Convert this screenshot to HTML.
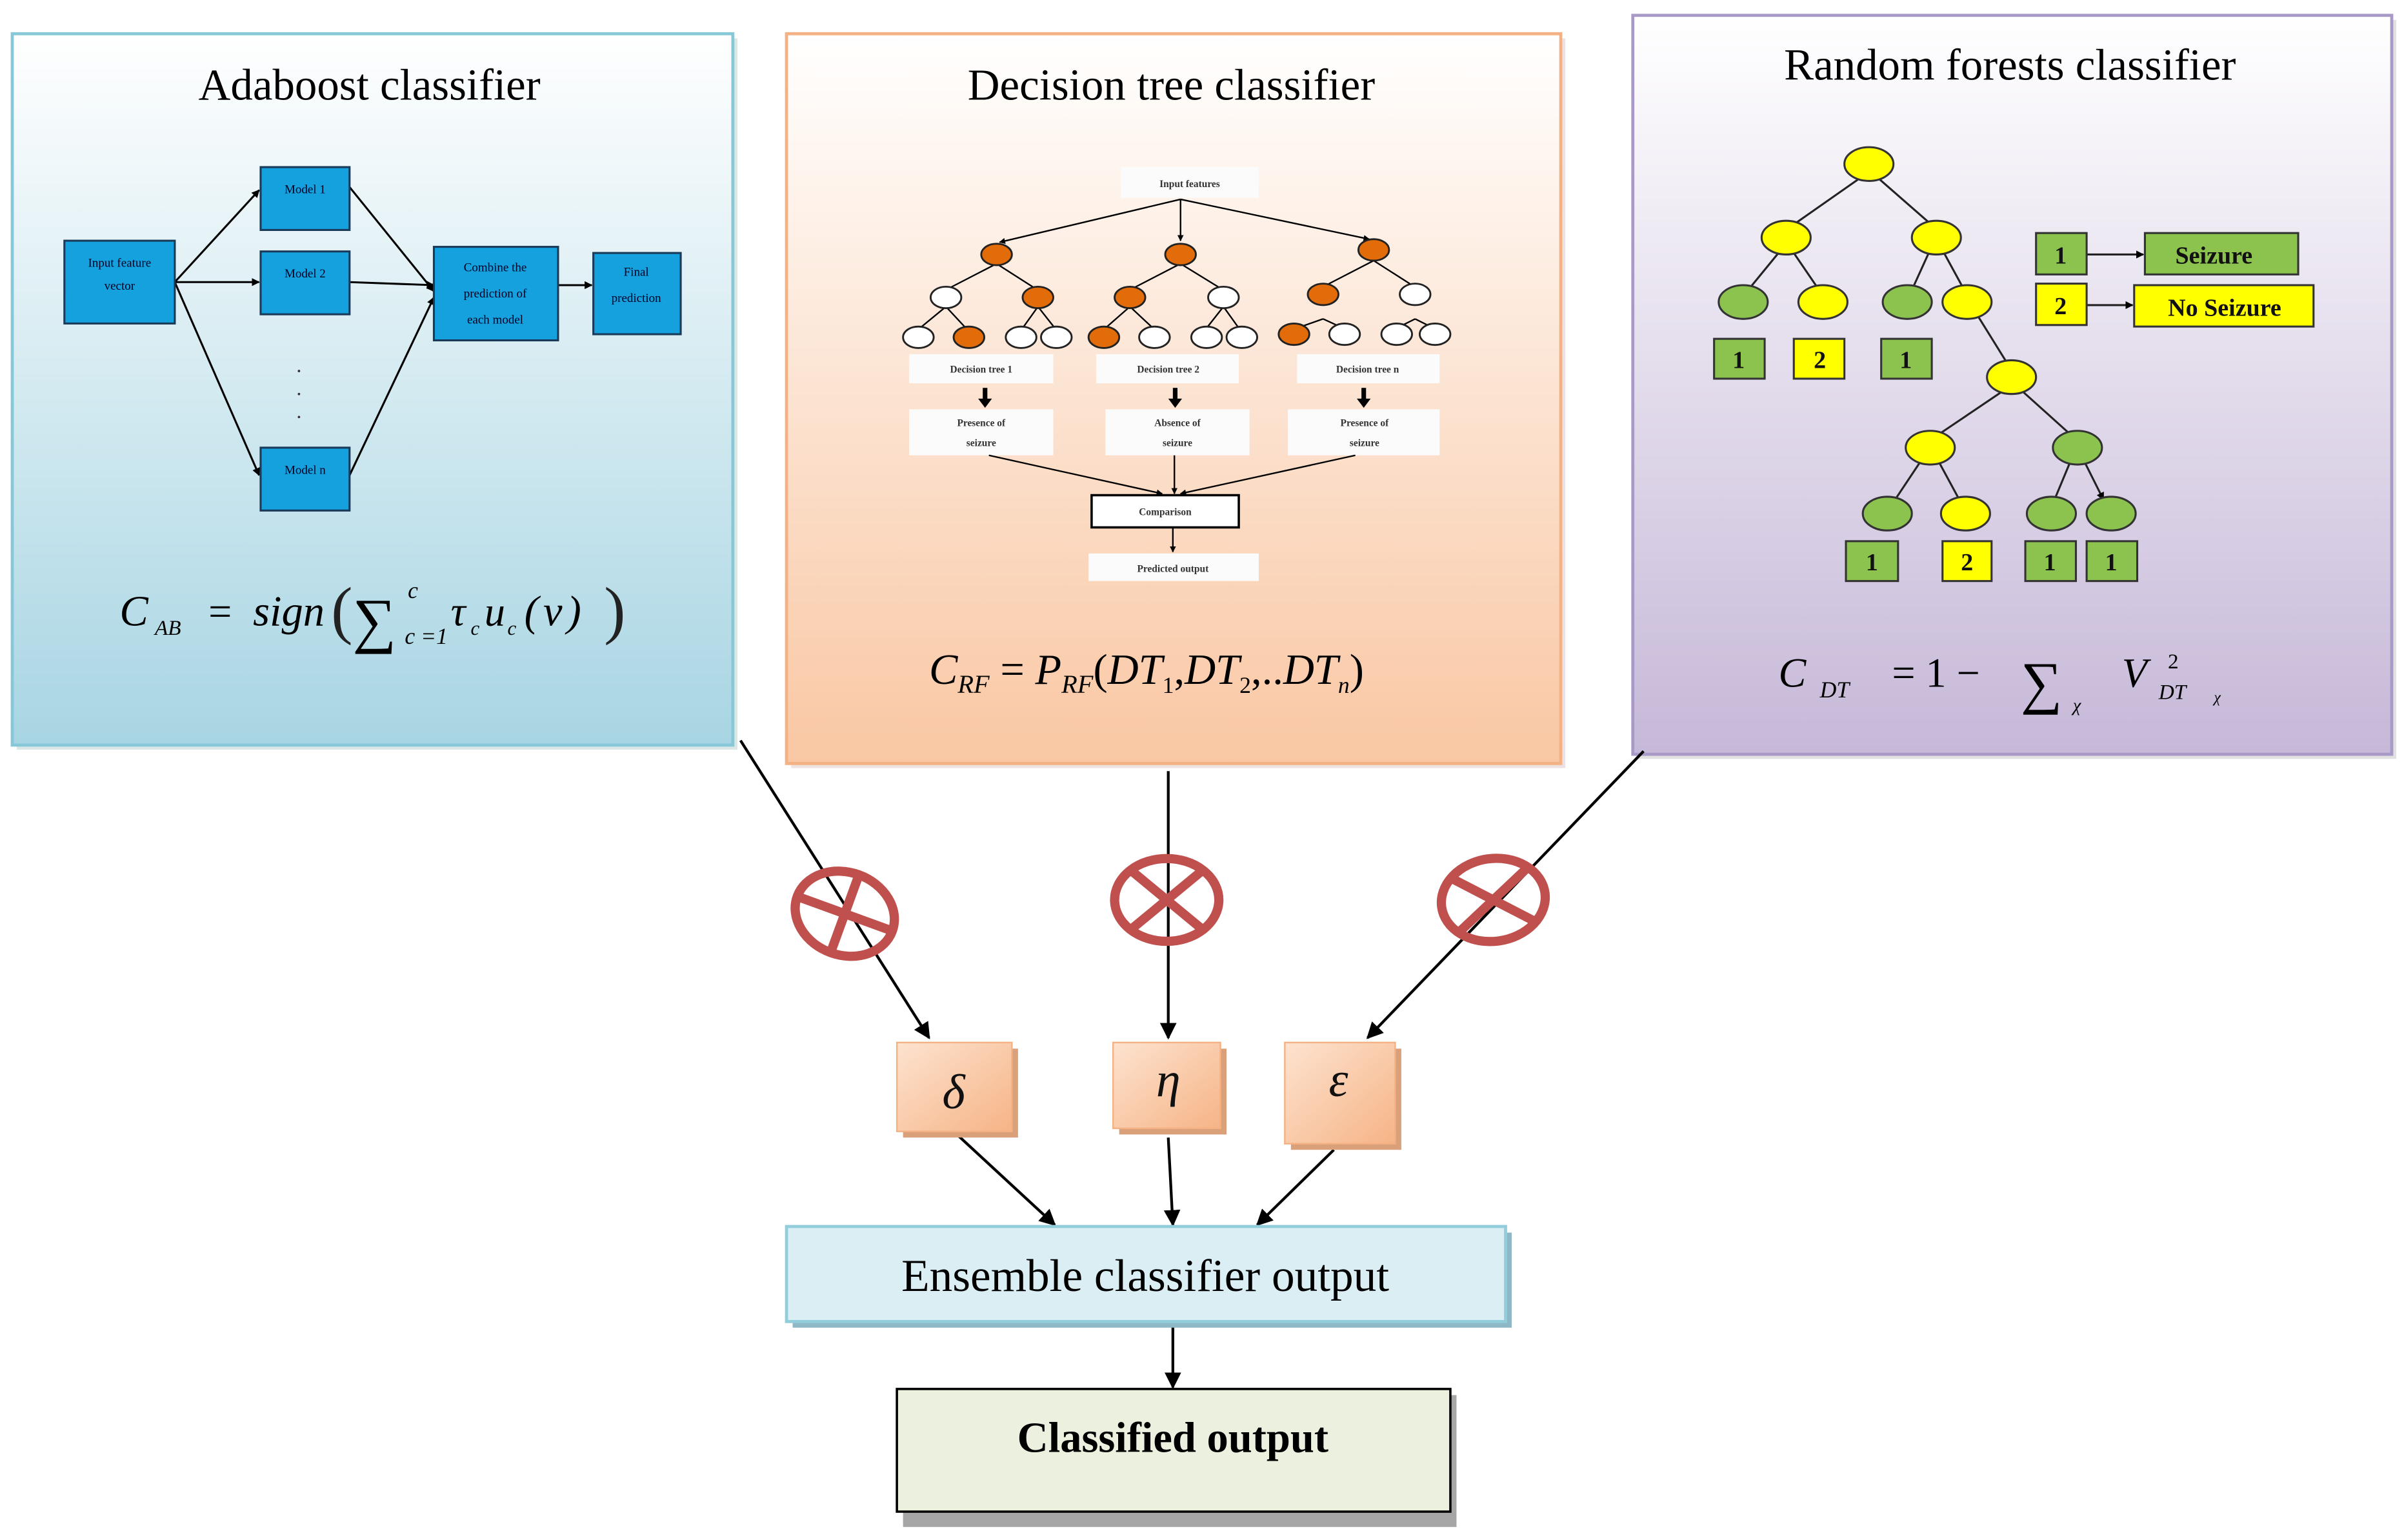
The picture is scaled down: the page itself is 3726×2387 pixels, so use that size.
<!DOCTYPE html>
<html><head><meta charset="utf-8"><style>html,body{margin:0;padding:0;background:#fff}svg{display:block}</style></head><body>
<svg xmlns="http://www.w3.org/2000/svg" width="3726" height="2387" viewBox="0 0 1568 1004.5" font-family="Liberation Serif, serif">
<defs>
<linearGradient id="gb" x1="0" y1="0" x2="0" y2="1"><stop offset="0" stop-color="#ffffff"/><stop offset="1" stop-color="#a8d5e3"/></linearGradient>
<linearGradient id="go" x1="0" y1="0" x2="0" y2="1"><stop offset="0" stop-color="#ffffff"/><stop offset="1" stop-color="#f9c7a3"/></linearGradient>
<linearGradient id="gp" x1="0" y1="0" x2="0" y2="1"><stop offset="0" stop-color="#ffffff"/><stop offset="1" stop-color="#c6b8d8"/></linearGradient>
<linearGradient id="gs" x1="0" y1="0" x2="1" y2="1"><stop offset="0" stop-color="#fde3d0"/><stop offset="1" stop-color="#f6b486"/></linearGradient>
<marker id="a" viewBox="0 0 10 10" refX="9" refY="5" markerWidth="6" markerHeight="6" orient="auto"><path d="M0,0L10,5L0,10z" fill="#000"/></marker>
<marker id="s" viewBox="0 0 10 10" refX="9" refY="5" markerWidth="4" markerHeight="4" orient="auto"><path d="M0,0L10,5L0,10z" fill="#000"/></marker>
</defs>

<rect x="11" y="25" width="470" height="464" fill="#9bb" opacity="0.35"/>
<rect x="8" y="22" width="470" height="464" fill="url(#gb)" stroke="#86c7d8" stroke-width="2"/>
<rect x="516" y="25" width="505" height="476" fill="#caa" opacity="0.35"/>
<rect x="513" y="22" width="505" height="476" fill="url(#go)" stroke="#f4b183" stroke-width="2"/>
<rect x="1068" y="13" width="495" height="482" fill="#aaa" opacity="0.35"/>
<rect x="1065" y="10" width="495" height="482" fill="url(#gp)" stroke="#a999c6" stroke-width="2"/>

<text x="241" y="65" font-size="29" text-anchor="middle">Adaboost classifier</text>
<text x="764" y="65" font-size="29" text-anchor="middle">Decision tree classifier</text>
<text x="1311" y="52" font-size="29" text-anchor="middle">Random forests classifier</text>

<g stroke="#000" stroke-width="1.3" fill="none">
<line x1="114" y1="184" x2="169" y2="124" marker-end="url(#s)"/>
<line x1="114" y1="184" x2="169" y2="184" marker-end="url(#s)"/>
<line x1="114" y1="184" x2="169" y2="310" marker-end="url(#s)"/>
<line x1="228" y1="122" x2="283" y2="190" marker-end="url(#s)"/>
<line x1="228" y1="184" x2="283" y2="186" marker-end="url(#s)"/>
<line x1="228" y1="310" x2="283" y2="194" marker-end="url(#s)"/>
<line x1="364" y1="186" x2="386" y2="186" marker-end="url(#s)"/>
</g>
<g fill="#14a1de" stroke="#1a3a5a" stroke-width="1.3">
<rect x="42" y="157" width="72" height="54"/>
<rect x="170" y="109" width="58" height="41"/>
<rect x="170" y="164" width="58" height="41"/>
<rect x="170" y="292" width="58" height="41"/>
<rect x="283" y="161" width="81" height="61"/>
<rect x="387" y="165" width="57" height="53"/>
</g>
<g font-size="8" text-anchor="middle" fill="#002">
<text x="78" y="174">Input feature</text><text x="78" y="189">vector</text>
<text x="199" y="126">Model 1</text><text x="199" y="181">Model 2</text><text x="199" y="309">Model n</text>
<text x="323" y="177">Combine the</text><text x="323" y="194">prediction of</text><text x="323" y="211">each model</text>
<text x="415" y="180">Final</text><text x="415" y="197">prediction</text>
</g>
<g fill="#333"><circle cx="195" cy="242" r="0.8"/><circle cx="195" cy="257" r="0.8"/><circle cx="195" cy="272" r="0.8"/></g>
<text x="78" y="408" font-size="28" font-style="italic">C</text>
<text x="101" y="414" font-size="14" font-style="italic">AB</text>
<text x="136" y="408" font-size="27">=</text>
<text x="165" y="408" font-size="28" font-style="italic">sign</text>
<text x="216" y="412" font-size="42" fill="#222">(</text>
<text x="230" y="418" font-size="40">∑</text>
<text x="266" y="390" font-size="15" font-style="italic">c</text>
<text x="264" y="420" font-size="15" font-style="italic">c =1</text>
<text x="294" y="408" font-size="27" font-style="italic">τ</text>
<text x="307" y="414" font-size="13" font-style="italic">c</text>
<text x="316" y="408" font-size="27" font-style="italic">u</text>
<text x="331" y="414" font-size="13" font-style="italic">c</text>
<text x="342" y="408" font-size="28" font-style="italic" letter-spacing="3">(ν)</text>
<text x="394" y="412" font-size="42" fill="#222">)</text>

<g fill="#fbfbfb">
<rect x="731" y="109" width="90" height="20"/>
<rect x="593" y="231" width="94" height="19"/><rect x="715" y="231" width="93" height="19"/><rect x="846" y="231" width="93" height="19"/>
<rect x="593" y="267" width="94" height="30"/><rect x="721" y="267" width="94" height="30"/><rect x="840" y="267" width="99" height="30"/>
<rect x="710" y="361" width="111" height="18"/>
</g>
<rect x="712" y="323" width="96" height="21" fill="#fff" stroke="#000" stroke-width="1.5"/>
<g font-size="6.5" font-weight="bold" text-anchor="middle" fill="#333">
<text x="776" y="122">Input features</text>
<text x="640" y="243">Decision tree 1</text><text x="762" y="243">Decision tree 2</text><text x="892" y="243">Decision tree n</text>
<text x="640" y="278">Presence of</text><text x="640" y="291">seizure</text>
<text x="768" y="278">Absence of</text><text x="768" y="291">seizure</text>
<text x="890" y="278">Presence of</text><text x="890" y="291">seizure</text>
<text x="760" y="336">Comparison</text>
<text x="765" y="373">Predicted output</text>
</g>
<g stroke="#000" stroke-width="1" fill="none">
<line x1="770" y1="130" x2="652" y2="158" marker-end="url(#s)"/>
<line x1="770" y1="130" x2="770" y2="157" marker-end="url(#s)"/>
<line x1="770" y1="130" x2="893" y2="156" marker-end="url(#s)"/>
<path d="M650 172L619 188M650 172L675 188M617 200L600 214M617 200L630 214M677 200L667 214M677 200L688 214M770 172L739 188M770 172L796 188M737 200L721 214M737 200L752 214M798 200L787 214M798 200L808 214M896 170L865 186M896 170L921 186M863 208L846 214M863 208L876 214M923 208L911 214M923 208L935 214" marker-end="url(#s)"/>
<line x1="645" y1="297" x2="758" y2="322" marker-end="url(#s)"/>
<line x1="766" y1="297" x2="766" y2="322" marker-end="url(#s)"/>
<line x1="884" y1="297" x2="770" y2="322" marker-end="url(#s)"/>
<line x1="765" y1="344" x2="765" y2="360" marker-end="url(#s)"/>
</g>
<g fill="#000"><rect x="641" y="253" width="3" height="8"/><path d="M638 260h9l-4.5 6z"/>
<rect x="765" y="253" width="3" height="8"/><path d="M762 260h9l-4.5 6z"/>
<rect x="888" y="253" width="3" height="8"/><path d="M885 260h9l-4.5 6z"/></g>
<g stroke="#222" stroke-width="1.2">
<ellipse cx="650" cy="166" rx="10" ry="7" fill="#e36c0a"/><ellipse cx="770" cy="166" rx="10" ry="7" fill="#e36c0a"/><ellipse cx="896" cy="163" rx="10" ry="7" fill="#e36c0a"/>
<ellipse cx="617" cy="194" rx="10" ry="7" fill="#fff"/><ellipse cx="677" cy="194" rx="10" ry="7" fill="#e36c0a"/>
<ellipse cx="737" cy="194" rx="10" ry="7" fill="#e36c0a"/><ellipse cx="798" cy="194" rx="10" ry="7" fill="#fff"/>
<ellipse cx="863" cy="192" rx="10" ry="7" fill="#e36c0a"/><ellipse cx="923" cy="192" rx="10" ry="7" fill="#fff"/>
<ellipse cx="599" cy="220" rx="10" ry="7" fill="#fff"/><ellipse cx="632" cy="220" rx="10" ry="7" fill="#e36c0a"/><ellipse cx="666" cy="220" rx="10" ry="7" fill="#fff"/><ellipse cx="689" cy="220" rx="10" ry="7" fill="#fff"/>
<ellipse cx="720" cy="220" rx="10" ry="7" fill="#e36c0a"/><ellipse cx="753" cy="220" rx="10" ry="7" fill="#fff"/><ellipse cx="787" cy="220" rx="10" ry="7" fill="#fff"/><ellipse cx="810" cy="220" rx="10" ry="7" fill="#fff"/>
<ellipse cx="844" cy="218" rx="10" ry="7" fill="#e36c0a"/><ellipse cx="877" cy="218" rx="10" ry="7" fill="#fff"/><ellipse cx="911" cy="218" rx="10" ry="7" fill="#fff"/><ellipse cx="936" cy="218" rx="10" ry="7" fill="#fff"/>
</g>
<text x="606" y="446" font-size="28" font-style="italic">C<tspan font-size="17" dy="6">RF</tspan><tspan dy="-6" font-style="normal"> = </tspan>P<tspan font-size="17" dy="6">RF</tspan><tspan dy="-6" font-style="normal">(</tspan>DT<tspan font-size="15" dy="6" font-style="normal">1</tspan><tspan dy="-6" font-style="normal">,</tspan>DT<tspan font-size="15" dy="6" font-style="normal">2</tspan><tspan dy="-6" font-style="normal">,..</tspan>DT<tspan font-size="15" dy="6">n</tspan><tspan dy="-6" font-style="normal">)</tspan></text>

<g stroke="#222" stroke-width="1.3" fill="none">
<path d="M1212 117L1172 145M1226 117L1258 145M1160 165L1142 187M1170 165L1185 187M1258 165L1248 187M1268 165L1280 187M1290 206L1308 235M1305 256L1265 283M1320 256L1350 283M1252 302L1236 326M1265 302L1278 326M1350 302L1340 326M1360 302L1372 326" marker-end="url(#s)"/>
<line x1="1361" y1="166" x2="1398" y2="166" marker-end="url(#s)"/>
<line x1="1361" y1="199" x2="1391" y2="199" marker-end="url(#s)"/>
</g>
<g stroke="#333" stroke-width="1.3">
<ellipse cx="1219" cy="107" rx="16" ry="11" fill="#ffff00"/>
<ellipse cx="1165" cy="155" rx="16" ry="11" fill="#ffff00"/><ellipse cx="1263" cy="155" rx="16" ry="11" fill="#ffff00"/>
<ellipse cx="1137" cy="197" rx="16" ry="11" fill="#8cc34f"/><ellipse cx="1189" cy="197" rx="16" ry="11" fill="#ffff00"/>
<ellipse cx="1244" cy="197" rx="16" ry="11" fill="#8cc34f"/><ellipse cx="1283" cy="197" rx="16" ry="11" fill="#ffff00"/>
<ellipse cx="1312" cy="246" rx="16" ry="11" fill="#ffff00"/>
<ellipse cx="1259" cy="292" rx="16" ry="11" fill="#ffff00"/><ellipse cx="1355" cy="292" rx="16" ry="11" fill="#8cc34f"/>
<ellipse cx="1231" cy="335" rx="16" ry="11" fill="#8cc34f"/><ellipse cx="1282" cy="335" rx="16" ry="11" fill="#ffff00"/>
<ellipse cx="1338" cy="335" rx="16" ry="11" fill="#8cc34f"/><ellipse cx="1377" cy="335" rx="16" ry="11" fill="#8cc34f"/>
<rect x="1118" y="221" width="33" height="26" fill="#8cc34f"/><rect x="1170" y="221" width="33" height="26" fill="#ffff00"/><rect x="1227" y="221" width="33" height="26" fill="#8cc34f"/>
<rect x="1204" y="353" width="34" height="26" fill="#8cc34f"/><rect x="1267" y="353" width="32" height="26" fill="#ffff00"/><rect x="1321" y="353" width="33" height="26" fill="#8cc34f"/><rect x="1361" y="353" width="33" height="26" fill="#8cc34f"/>
<rect x="1328" y="152" width="33" height="27" fill="#8cc34f"/><rect x="1399" y="152" width="100" height="27" fill="#8cc34f"/>
<rect x="1328" y="185" width="33" height="27" fill="#ffff00"/><rect x="1392" y="186" width="117" height="27" fill="#ffff00"/>
</g>
<g font-size="16" font-weight="bold" text-anchor="middle" fill="#111">
<text x="1134" y="240">1</text><text x="1187" y="240">2</text><text x="1243" y="240">1</text>
<text x="1221" y="372">1</text><text x="1283" y="372">2</text><text x="1337" y="372">1</text><text x="1377" y="372">1</text>
<text x="1344" y="172">1</text><text x="1344" y="205">2</text>
<text x="1444" y="172">Seizure</text><text x="1451" y="206">No Seizure</text>
</g>
<text x="1160" y="448" font-size="27" font-style="italic">C</text>
<text x="1187" y="455" font-size="15" font-style="italic">DT</text>
<text x="1234" y="448" font-size="27">=  1  −</text>
<text x="1318" y="458" font-size="38">∑</text>
<text x="1352" y="464" font-size="12" font-style="italic">χ</text>
<text x="1384" y="448" font-size="27" font-style="italic">V</text>
<text x="1414" y="436" font-size="14">2</text>
<text x="1408" y="456" font-size="14" font-style="italic">DT</text>
<text x="1444" y="458" font-size="10" font-style="italic">χ</text>

<g stroke="#000" stroke-width="1.8" fill="none">
<line x1="483" y1="483" x2="606" y2="677" marker-end="url(#a)"/>
<line x1="762" y1="503" x2="762" y2="677" marker-end="url(#a)"/>
<line x1="1072" y1="490" x2="892" y2="677" marker-end="url(#a)"/>
<line x1="622" y1="738" x2="688" y2="799" marker-end="url(#a)"/>
<line x1="762" y1="742" x2="765" y2="799" marker-end="url(#a)"/>
<line x1="870" y1="750" x2="820" y2="799" marker-end="url(#a)"/>
<line x1="765" y1="862" x2="765" y2="905" marker-end="url(#a)"/>
</g>
<g stroke="#c0504d" stroke-width="6" fill="none">
<g transform="rotate(20 551 596)"><ellipse cx="551" cy="596" rx="33" ry="27"/><line x1="518" y1="596" x2="584" y2="596"/><line x1="551" y1="569" x2="551" y2="623"/></g>
<g><ellipse cx="761" cy="587" rx="34" ry="27"/><line x1="738" y1="568" x2="784" y2="606"/><line x1="784" y1="568" x2="738" y2="606"/></g>
<g transform="rotate(-8 974 587)"><ellipse cx="974" cy="587" rx="34" ry="27"/><line x1="950" y1="570" x2="998" y2="604"/><line x1="998" y1="570" x2="950" y2="604"/></g>
</g>
<g fill="#d9a07a"><rect x="589" y="684" width="75" height="58"/><rect x="730" y="684" width="70" height="56"/><rect x="842" y="684" width="72" height="66"/></g>
<g fill="url(#gs)" stroke="#f4b183" stroke-width="1"><rect x="585" y="680" width="75" height="58"/><rect x="726" y="680" width="70" height="56"/><rect x="838" y="680" width="72" height="66"/></g>
<g font-size="32" font-style="italic" text-anchor="middle" fill="#111"><text x="622" y="723">δ</text><text x="762" y="715">η</text><text x="873" y="715">ε</text></g>

<rect x="517" y="804" width="469" height="62" fill="#8fb8c6"/>
<rect x="513" y="800" width="469" height="62" fill="#daeef3" stroke="#92cddc" stroke-width="2"/>
<text x="747" y="842" font-size="30" text-anchor="middle">Ensemble classifier output</text>
<rect x="589" y="910" width="361" height="86" fill="#a6a6a6"/>
<rect x="585" y="906" width="361" height="80" fill="#ebf1de" stroke="#000" stroke-width="1.5"/>
<text x="765" y="947" font-size="28" font-weight="bold" text-anchor="middle">Classified output</text>
</svg>
</body></html>
